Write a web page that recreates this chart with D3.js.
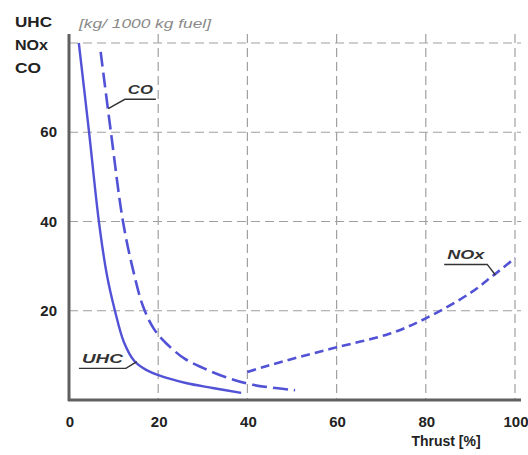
<!DOCTYPE html>
<html>
<head>
<meta charset="utf-8">
<script src="https://cdn.jsdelivr.net/npm/d3@7"></script>
<style>
  body { margin: 0; background: #fff; }
  text { font-family: "Liberation Sans", Arial, sans-serif; }
</style>
</head>
<body>
<div id="chart"></div>
<script>
// thrust [%] vs emission index [kg / 1000 kg fuel]
const uhcThrust = [2.2, 4.5, 6.7, 8.5, 10.3, 12.3, 14.6, 17.2, 20.2, 26.2, 32.2, 38.6];
const uhcValue  = [80, 60, 40, 28, 20, 13, 8.8, 6.8, 5.5, 3.8, 2.7, 1.6];

const coThrust = [7.1, 9.4, 12.1, 14.4, 16.6, 19, 22, 26, 30, 35.2, 41.2, 50.7];
const coValue  = [78, 60, 40, 29, 21, 16, 12.5, 9.2, 7.2, 5.1, 3.4, 2.2];

const noxThrust = [40, 44, 50, 60, 72, 80, 90, 95, 100];
const noxValue  = [6.3, 7.5, 9.2, 11.8, 14.9, 18.3, 24, 27.8, 31.8];

const xTicks = [0, 20, 40, 60, 80, 100];
const yTicks = [20, 40, 60];
const yGrid = [20, 40, 60, 80];

const width = 528, height = 455;

const svg = d3.select("#chart").append("svg")
    .attr("width", width)
    .attr("height", height);

const x = d3.scaleLinear().domain([0, 100]).range([69, 515]);
const y = d3.scaleLinear().domain([0, 80]).range([400, 43]);

// grid
svg.selectAll(".hgrid")
    .data(yGrid)
    .join("line")
    .attr("x1", x(0)).attr("x2", x(100) + 6)
    .attr("y1", d => y(d)).attr("y2", d => y(d))
    .attr("stroke", "#a0a0a0")
    .attr("stroke-width", 1.2)
    .attr("stroke-dasharray", "9,5");

svg.selectAll(".vgrid")
    .data(xTicks.slice(1))
    .join("line")
    .attr("x1", d => x(d)).attr("x2", d => x(d))
    .attr("y1", y(80) - 9).attr("y2", y(0))
    .attr("stroke", "#a0a0a0")
    .attr("stroke-width", 1.2)
    .attr("stroke-dasharray", "9,5");

// axes
svg.append("line")
    .attr("x1", x(0)).attr("x2", x(0))
    .attr("y1", y(80) - 9).attr("y2", y(0) + 1)
    .attr("stroke", "#606060").attr("stroke-width", 3);
svg.append("line")
    .attr("x1", x(0) - 1).attr("x2", x(100) + 6)
    .attr("y1", y(0)).attr("y2", y(0))
    .attr("stroke", "#606060").attr("stroke-width", 3);

// tick labels
svg.selectAll(".xlab")
    .data(xTicks)
    .join("text")
    .attr("x", d => x(d) + 1)
    .attr("y", 427)
    .attr("text-anchor", "middle")
    .style("font-size", "15px")
    .style("font-weight", "bold")
    .attr("fill", "#222")
    .text(d => d);

svg.selectAll(".ylab")
    .data(yTicks)
    .join("text")
    .attr("x", 57)
    .attr("y", d => y(d) + 5)
    .attr("text-anchor", "end")
    .style("font-size", "15px")
    .style("font-weight", "bold")
    .attr("fill", "#222")
    .text(d => d);

// axis titles
const titleLines = ["UHC", "NOx", "CO"];
const titleWidths = [37, 33, 26];
titleLines.forEach((t, i) => {
    svg.append("text")
        .attr("x", 15)
        .attr("y", 27 + i * 23)
        .attr("textLength", titleWidths[i])
        .attr("lengthAdjust", "spacingAndGlyphs")
        .style("font-size", "15px")
        .style("font-weight", "bold")
        .attr("fill", "#222")
        .text(t);
});
svg.append("text")
    .attr("x", 79).attr("y", 28)
    .attr("textLength", 132)
    .attr("lengthAdjust", "spacingAndGlyphs")
    .style("font-size", "13px")
    .style("font-style", "italic")
    .attr("fill", "#8a8a8a")
    .text("[kg/ 1000 kg fuel]");

svg.append("text")
    .attr("x", 446).attr("y", 446)
    .attr("text-anchor", "middle")
    .style("font-size", "14px")
    .style("font-weight", "bold")
    .attr("fill", "#222")
    .text("Thrust [%]");

// curves
const line = d3.line()
    .x(d => x(d[0]))
    .y(d => y(d[1]))
    .curve(d3.curveCatmullRom.alpha(0.5));

const blue = "#5252d6";

svg.append("path")
    .attr("d", line(d3.zip(uhcThrust, uhcValue)))
    .attr("fill", "none")
    .attr("stroke", blue)
    .attr("stroke-width", 2.4);

svg.append("path")
    .attr("d", line(d3.zip(coThrust, coValue)))
    .attr("fill", "none")
    .attr("stroke", blue)
    .attr("stroke-width", 2.6)
    .attr("stroke-dasharray", "15,6");

svg.append("path")
    .attr("d", line(d3.zip(noxThrust, noxValue)))
    .attr("fill", "none")
    .attr("stroke", blue)
    .attr("stroke-width", 2.6)
    .attr("stroke-dasharray", "9,5");

// curve labels with underline + leader
const labels = [
    {text: "CO", tx: 13.2, ty: 68.5, w: 25, to: [8.8, 65.3]},
    {text: "UHC", tx: 2.9, ty: 8.2, w: 41, to: [15.2, 8.6]},
    {text: "NOx", tx: 84.8, ty: 31.5, w: 37, to: [95.6, 28]}
];

labels.forEach(l => {
    const lx = x(l.tx), ly = y(l.ty);
    svg.append("text")
        .attr("x", lx).attr("y", ly)
        .attr("textLength", l.w)
        .attr("lengthAdjust", "spacingAndGlyphs")
        .style("font-size", "13px")
        .style("font-weight", "bold")
        .style("font-style", "italic")
        .attr("fill", "#333")
        .text(l.text);
    const ux0 = lx - 3, ux1 = lx + l.w + 3, uy = ly + 5;
    const target = [x(l.to[0]), y(l.to[1])];
    const pts = l.to[0] > l.tx
        ? [[ux0, uy], [ux1, uy], target]
        : [target, [ux0, uy], [ux1, uy]];
    svg.append("path")
        .attr("d", d3.line()(pts))
        .attr("fill", "none")
        .attr("stroke", "#333")
        .attr("stroke-width", 1.4);
});
</script>
</body>
</html>
